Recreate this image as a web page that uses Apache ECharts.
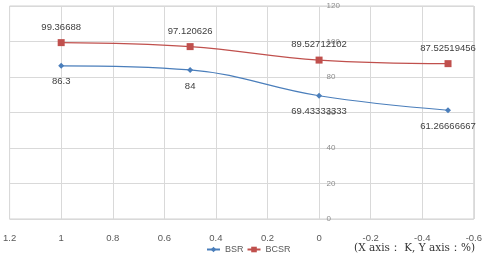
<!DOCTYPE html>
<html lang="en">
<head>
    <meta charset="UTF-8">
    <title>BSR-BCSR</title>
    <script src="https://cdnjs.cloudflare.com/ajax/libs/echarts/6.0.0/echarts.min.js"></script>
    <style>
        body { margin: 0; background: #fff; }
    </style>
</head>
<body>
    <div id="main" style="width: 485px;height:253px;"></div>
    <script>
        // x axis: K, y axis: %
        const kValues = [1, 0.5, 0, -0.5];
        const bsr = [86.3, 84, 69.43333333, 61.26666667];
        const bcsr = [99.36688, 97.120626, 89.52712102, 87.52519456];
        const bsrLabels = ["86.3", "84", "69.43333333", "61.26666667"];
        const bcsrLabels = ["99.36688", "97.120626", "89.52712102", "87.52519456"];

        const chart = echarts.init(document.getElementById('main'));

        function pairs(xs, ys) {
            return xs.map((x, i) => [x, ys[i]]);
        }

        const labelStyle = {
            show: true,
            fontSize: 9.5,
            color: '#404040',
            fontFamily: 'Liberation Sans'
        };

        var option = {
            animation: false,
            grid: {
                left: 4, right: 10, top: 6, bottom: 34,
                show: true,
                borderColor: '#d0d0d0',
                borderWidth: 1
            },
            legend: {
                bottom: -6,
                left: 201,
                itemWidth: 13,
                itemHeight: 7,
                itemGap: 3,
                textStyle: { fontSize: 9, color: '#595959', fontFamily: 'Liberation Sans' },
                data: ['BSR', 'BCSR']
            },
            xAxis: {
                type: 'value',
                inverse: true,
                min: -0.6,
                max: 1.2,
                interval: 0.2,
                axisLine: { show: false },
                axisTick: { show: false },
                splitLine: { lineStyle: { color: '#d9d9d9' } },
                axisLabel: {
                    fontSize: 9.5,
                    color: '#595959',
                    margin: 14,
                    fontFamily: 'Liberation Sans',
                    formatter: (v) => String(Math.round(v * 10) / 10)
                }
            },
            yAxis: {
                type: 'value',
                min: 0,
                max: 120,
                interval: 20,
                // labels sit beside x = 0 (grid is 471px wide for 1.8 units)
                offset: -314,
                axisLine: { show: false, onZero: false },
                axisTick: { show: false },
                splitLine: { lineStyle: { color: '#d9d9d9' } },
                axisLabel: {
                    inside: true,
                    margin: 3,
                    fontSize: 8,
                    color: '#8c8c8c',
                    fontFamily: 'Liberation Sans'
                }
            },
            graphic: [{
                type: 'text',
                right: 10,
                bottom: -1,
                style: {
                    text: '(X axis： K, Y axis：%)',
                    font: '10.5px "DejaVu Serif"',
                    fill: '#333'
                }
            }],
            series: [
                {
                    name: 'BSR',
                    type: 'line',
                    smooth: 0.4,
                    data: pairs(kValues, bsr),
                    symbol: 'diamond',
                    symbolSize: 6,
                    itemStyle: { color: '#4a7ebb' },
                    lineStyle: { width: 1.2 },
                    label: Object.assign({}, labelStyle, {
                        position: 'bottom',
                        distance: 8,
                        formatter: (p) => bsrLabels[p.dataIndex]
                    })
                },
                {
                    name: 'BCSR',
                    type: 'line',
                    smooth: 0.4,
                    data: pairs(kValues, bcsr),
                    symbol: 'rect',
                    symbolSize: 7,
                    itemStyle: { color: '#c0504d' },
                    lineStyle: { width: 1.2 },
                    label: Object.assign({}, labelStyle, {
                        position: 'top',
                        distance: 7,
                        formatter: (p) => bcsrLabels[p.dataIndex]
                    })
                }
            ]
        };

        chart.setOption(option);
    </script>
</body>
</html>
